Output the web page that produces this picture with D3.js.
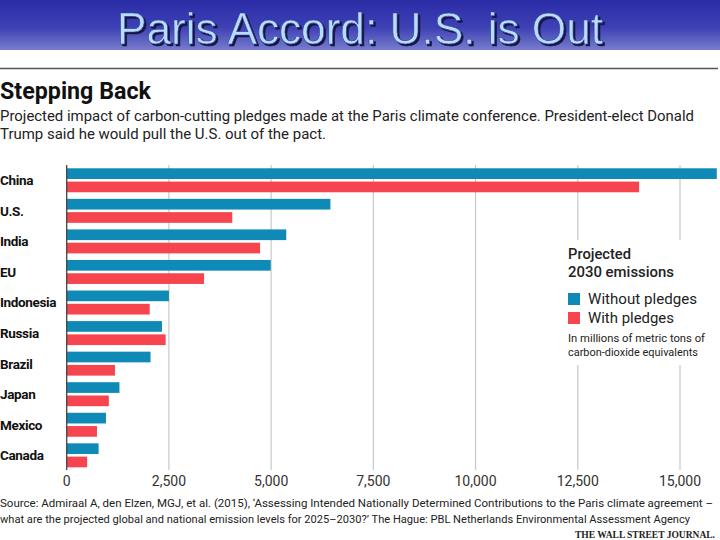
<!DOCTYPE html>
<html><head><meta charset="utf-8">
<script src="https://cdn.jsdelivr.net/npm/d3@7"></script>
<style>
body{margin:0;background:#fff;}
svg{display:block;}
.cond{font-family:"Roboto","DejaVu Sans Condensed",sans-serif;}
</style></head>
<body>
<script>
const categories = ["China","U.S.","India","EU","Indonesia","Russia","Brazil","Japan","Mexico","Canada"];
const withoutPledges = [15900, 6450, 5370, 4990, 2500, 2330, 2050, 1290, 960, 780];
const withPledges    = [14000, 4050, 4730, 3360, 2030, 2420, 1180, 1030, 740, 500];
const seriesNames = ["Without pledges","With pledges"];
const tickValues = [0, 2500, 5000, 7500, 10000, 12500, 15000];

const W = 720, H = 540;
const blue = "#0f8ab6", red = "#f6454e";
const svg = d3.select("body").append("svg").attr("width", W).attr("height", H);

// fit a text to a target width: shrink font if natural width is larger, then set exact length
function fit(sel, target) {
  sel.each(function(d, i) {
    const t = typeof target === "function" ? target(d, i) : target;
    const n = this.getComputedTextLength();
    const fs = +this.getAttribute("font-size");
    if (n > t) this.setAttribute("font-size", fs * t / n);
    this.setAttribute("textLength", t);
    this.setAttribute("lengthAdjust", "spacingAndGlyphs");
  });
  return sel;
}

// Banner
const defs = svg.append("defs");
const lg = defs.append("linearGradient").attr("id","ban").attr("x1",0).attr("y1",0).attr("x2",0).attr("y2",1);
lg.append("stop").attr("offset","0%").attr("stop-color","#2a2ca6");
lg.append("stop").attr("offset","55%").attr("stop-color","#3d41b4");
lg.append("stop").attr("offset","100%").attr("stop-color","#777dcc");
const flt = defs.append("filter").attr("id","sh").attr("x","-5%").attr("y","-20%").attr("width","110%").attr("height","140%");
flt.append("feDropShadow").attr("dx",2).attr("dy",2).attr("stdDeviation",0.6).attr("flood-color","#121245").attr("flood-opacity",1);
svg.append("rect").attr("x",0).attr("y",0).attr("width",W).attr("height",50).attr("fill","url(#ban)");
fit(svg.append("text").attr("x",360).attr("y",44).attr("text-anchor","middle")
  .attr("font-family","Liberation Sans, Arial, sans-serif").attr("font-size",44)
  .attr("fill","#b6dcff").attr("stroke","#3a3f9a").attr("stroke-width",0.6)
  .attr("filter","url(#sh)").text("Paris Accord: U.S. is Out"), 486);

// rule
svg.append("line").attr("x1",0).attr("x2",718).attr("y1",68.5).attr("y2",68.5)
  .attr("stroke","#555").attr("stroke-width",1.5);

// Heading
fit(svg.append("text").attr("class","cond").attr("x",0).attr("y",99)
  .attr("font-size",23).attr("font-weight","bold").attr("fill","#111").text("Stepping Back"), 151);
fit(svg.append("text").attr("class","cond").attr("x",0).attr("y",121)
  .attr("font-size",16).attr("fill","#222")
  .text("Projected impact of carbon-cutting pledges made at the Paris climate conference. President-elect Donald"), 694);
fit(svg.append("text").attr("class","cond").attr("x",0).attr("y",139)
  .attr("font-size",16).attr("fill","#222")
  .text("Trump said he would pull the U.S. out of the pact."), 326);

// Scales
const x = d3.scaleLinear().domain([0,15000]).range([66.7,680]);
const y = d3.scaleBand().domain(categories).range([165,470.6]).paddingInner(0.215).paddingOuter(0.1075);
const ys = d3.scaleBand().domain(seriesNames).range([0,y.bandwidth()]).paddingInner(0.195);

// Gridlines
svg.append("g").selectAll("line").data(tickValues.filter(d=>d>0)).join("line")
  .attr("x1",d=>x(d)).attr("x2",d=>x(d)).attr("y1",165).attr("y2",470)
  .attr("stroke","#c8c8c8").attr("stroke-width",1.2);

// Bars
const rows = categories.map((c,i)=>({cat:c, vals:[
  {s:seriesNames[0], v:withoutPledges[i], col:blue},
  {s:seriesNames[1], v:withPledges[i], col:red}]}));
svg.append("g").selectAll("g").data(rows).join("g")
  .attr("transform",d=>`translate(0,${y(d.cat)})`)
  .selectAll("rect").data(d=>d.vals).join("rect")
  .attr("x",x(0)).attr("y",d=>ys(d.s)).attr("height",ys.bandwidth())
  .attr("width",d=>Math.max(0,x(d.v)-x(0))).attr("fill",d=>d.col);

// zero axis line
svg.append("line").attr("x1",x(0)).attr("x2",x(0)).attr("y1",165).attr("y2",470)
  .attr("stroke","#444").attr("stroke-width",1.3);

// Category labels
svg.append("g").selectAll("text").data(categories).join("text")
  .attr("class","cond").attr("x",0).attr("y",d=>y(d)+y.bandwidth()/2)
  .attr("dy","0.36em").attr("font-size",13.5).attr("font-weight","bold").attr("fill","#111")
  .attr("letter-spacing",-0.35)
  .text(d=>d);

// X axis tick labels
const fmt = d3.format(",");
svg.append("g").selectAll("text").data(tickValues).join("text")
  .attr("class","cond").attr("x",d=>x(d)).attr("y",486).attr("text-anchor","middle")
  .attr("font-size",14).attr("fill","#333").text(d=>fmt(d));

// Legend (white backing breaks gridlines)
svg.append("rect").attr("x",560).attr("y",240).attr("width",160).attr("height",125).attr("fill","#fff");
const lx = 568;
fit(svg.append("text").attr("class","cond").attr("x",lx).attr("y",259).attr("font-size",16)
  .attr("font-weight",500).attr("fill","#222").text("Projected"), 63);
fit(svg.append("text").attr("class","cond").attr("x",lx).attr("y",277).attr("font-size",16)
  .attr("font-weight",500).attr("fill","#222").text("2030 emissions"), 106);
const leg = svg.append("g").selectAll("g").data(seriesNames).join("g")
  .attr("transform",(d,i)=>`translate(${lx},${293 + i*19})`);
leg.append("rect").attr("width",12).attr("height",12).attr("fill",(d,i)=>i===0?blue:red);
fit(leg.append("text").attr("class","cond").attr("x",20).attr("y",11).attr("font-size",16).attr("fill","#222")
  .text(d=>d), (d,i)=>i===0?109:86);
fit(svg.append("text").attr("class","cond").attr("x",lx).attr("y",342).attr("font-size",13).attr("fill","#222")
  .text("In millions of metric tons of"), 137);
fit(svg.append("text").attr("class","cond").attr("x",lx).attr("y",356).attr("font-size",13).attr("fill","#222")
  .text("carbon-dioxide equivalents"), 130);

// Source
fit(svg.append("text").attr("class","cond").attr("x",0).attr("y",507).attr("font-size",14).attr("fill","#222")
  .text("Source: Admiraal A, den Elzen, MGJ, et al. (2015), \u2018Assessing Intended Nationally Determined Contributions to the Paris climate agreement \u2013"), 713);
fit(svg.append("text").attr("class","cond").attr("x",0).attr("y",523).attr("font-size",14).attr("fill","#222")
  .text("what are the projected global and national emission levels for 2025\u20132030?\u2019 The Hague: PBL Netherlands Environmental Assessment Agency"), 690);
fit(svg.append("text").attr("x",715).attr("y",538).attr("text-anchor","end")
  .attr("font-family","Liberation Serif, Times New Roman, serif").attr("font-size",12).attr("font-weight","bold")
  .attr("fill","#222").text("THE WALL STREET JOURNAL."), 140);
</script>
</body></html>
